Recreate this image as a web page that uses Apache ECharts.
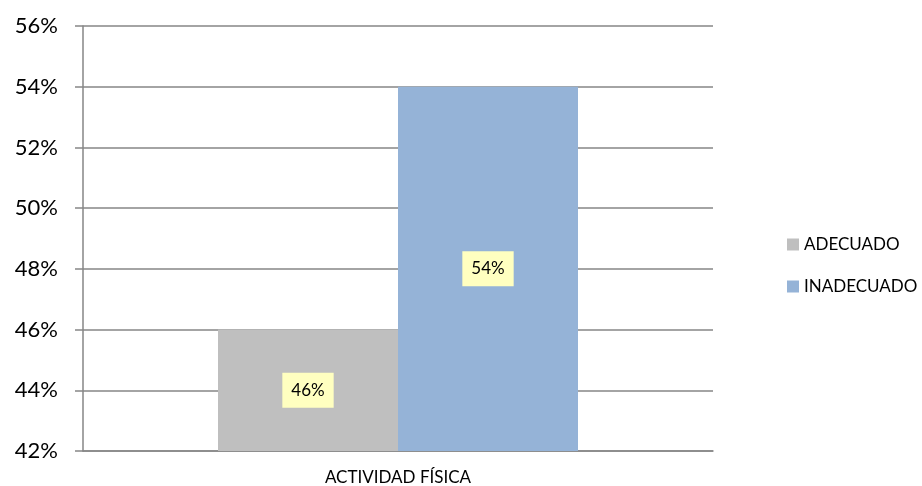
<html>
<head>
    <meta charset="UTF-8">
    <title>Actividad física</title>
    <script src="https://cdn.jsdelivr.net/npm/echarts@6/dist/echarts.min.js"></script>
</head>
<body style="margin:0;">
    <div id="container" style="width: 922px;height:486px;"></div>
</body>
<script>
    // datos
    var categorias = ['ACTIVIDAD FÍSICA'];
    var adecuado = [46];
    var inadecuado = [54];
    var ejeMin = 42, ejeMax = 56, ejePaso = 2;

    var mycharts = echarts.init(document.getElementById('container'));
    var fuente = 'Lato';
    var etiqueta = {
        show: true,
        position: 'inside',
        formatter: '{c}%',
        color: '#000',
        fontFamily: fuente,
        fontSize: 17,
        backgroundColor: '#FFFFC0',
        padding: [9, 9, 9, 9]
    };

    var option = {
        animation: false,
        textStyle: { fontFamily: fuente },
        grid: { left: 83, right: 209, top: 26, bottom: 35 },
        legend: {
            orient: 'vertical',
            left: 782,
            top: 231,
            itemWidth: 12,
            itemHeight: 12,
            itemGap: 25,
            icon: 'rect',
            textStyle: { fontSize: 17, color: '#000', fontFamily: fuente },
            data: ['ADECUADO', 'INADECUADO']
        },
        xAxis: {
            type: 'category',
            data: categorias,
            axisLine: { lineStyle: { color: '#868686', width: 1.5 } },
            axisTick: { length: 6, lineStyle: { color: '#868686', width: 1.5 } },
            axisLabel: { color: '#000', fontSize: 17, margin: 18 }
        },
        yAxis: {
            type: 'value',
            min: ejeMin,
            max: ejeMax,
            interval: ejePaso,
            axisLine: { show: true, lineStyle: { color: '#868686', width: 1.5 } },
            axisTick: { show: true, length: 8, lineStyle: { color: '#868686', width: 1.5 } },
            axisLabel: { formatter: '{value}%', color: '#000', fontSize: 22, margin: 25 },
            splitLine: { lineStyle: { color: '#868686', width: 1.5 } }
        },
        series: [
            {
                name: 'ADECUADO',
                type: 'bar',
                data: adecuado,
                barGap: '0%',
                barCategoryGap: '42.857%',
                itemStyle: { color: '#BFBFBF' },
                label: etiqueta
            },
            {
                name: 'INADECUADO',
                type: 'bar',
                data: inadecuado,
                itemStyle: { color: '#95B3D7' },
                label: etiqueta
            }
        ]
    };

    mycharts.setOption(option);
</script>
</html>
